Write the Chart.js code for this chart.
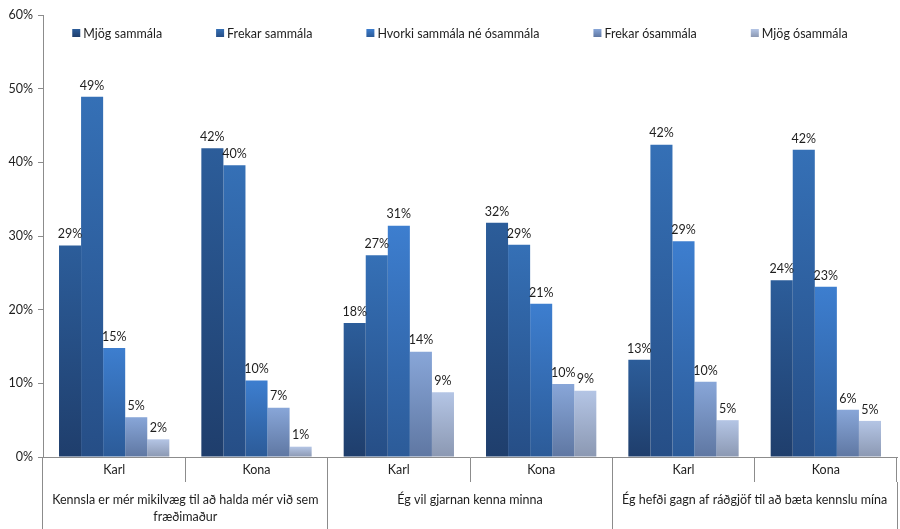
<!DOCTYPE html>
<html>
<head>
<meta charset="utf-8">
<script src="https://cdn.jsdelivr.net/npm/chart.js@4/dist/chart.umd.min.js"></script>
<style>
  html, body { margin: 0; padding: 0; background: #ffffff; }
  #wrap { width: 900px; height: 529px; }
</style>
</head>
<body>
<div id="wrap"><canvas id="chart" width="900" height="529"></canvas></div>
<script>
// Sub-categories (gender) and the three statements they belong to
const categories = ['Karl', 'Kona', 'Karl', 'Kona', 'Karl', 'Kona'];
const statements = [
  ['Kennsla er mér mikilvæg til að halda mér við sem', 'fræðimaður'],
  'Ég vil gjarnan kenna minna',
  'Ég hefði gagn af ráðgjöf til að bæta kennslu mína'
];
const seriesNames = ['Mjög sammála', 'Frekar sammála', 'Hvorki sammála né ósammála', 'Frekar ósammála', 'Mjög ósammála'];

// Share of answers (%) per sub-category
const mjogSammala     = [28.7, 41.9, 18.2, 31.8, 13.2, 24.0];
const frekarSammala   = [48.9, 39.6, 27.4, 28.8, 42.4, 41.7];
const hvorki          = [14.8, 10.4, 31.4, 20.8, 29.3, 23.1];
const frekarOsammala  = [5.4, 6.7, 14.3, 9.9, 10.2, 6.4];
const mjogOsammala    = [2.4, 1.4, 8.8, 9.0, 5.0, 4.9];

const yTicks = [0, 10, 20, 30, 40, 50, 60];

// Gradient colours per series: [top, bottom]
const palette = [
  ['#2c5d9a', '#1f3e6c'],
  ['#3570b6', '#264e86'],
  ['#3d7ecf', '#2c5b98'],
  ['#88a6d8', '#5f77a2'],
  ['#b4c5e5', '#8b98b2']
];

const FONT = 'Lato, "Open Sans", sans-serif';
const TEXT = '#1e1e1e';
const AXIS = '#8c8c8c';

function barFill(pair) {
  return function (ctx) {
    const chart = ctx.chart;
    if (!chart.chartArea || ctx.type !== 'data') return pair[1];
    const y = chart.scales.y;
    const yTop = y.getPixelForValue(ctx.raw);
    const yBase = y.getPixelForValue(0);
    if (!isFinite(yTop) || yTop === yBase) return pair[0];
    const g = chart.ctx.createLinearGradient(0, yTop, 0, yBase);
    g.addColorStop(0, pair[0]);
    g.addColorStop(1, pair[1]);
    return g;
  };
}

const seriesValues = [mjogSammala, frekarSammala, hvorki, frekarOsammala, mjogOsammala];

const datasets = seriesNames.map((name, i) => ({
  label: name,
  data: seriesValues[i],
  backgroundColor: barFill(palette[i]),
  borderWidth: 0,
  barPercentage: 1,
  categoryPercentage: 0.775
}));

// Percent labels above every bar
const valueLabels = {
  id: 'valueLabels',
  afterDatasetsDraw(chart) {
    const ctx = chart.ctx;
    ctx.save();
    ctx.font = '12.5px ' + FONT;
    ctx.fillStyle = TEXT;
    ctx.textAlign = 'center';
    ctx.textBaseline = 'bottom';
    chart.data.datasets.forEach((ds, di) => {
      const meta = chart.getDatasetMeta(di);
      meta.data.forEach((bar, idx) => {
        ctx.fillText(Math.round(ds.data[idx]) + '%', bar.x, bar.y - 5);
      });
    });
    ctx.restore();
  }
};

// Single-row legend laid over the top of the plot area
const topLegend = {
  id: 'topLegend',
  afterDraw(chart) {
    const ctx = chart.ctx;
    const area = chart.chartArea;
    const box = 8, gapText = 3, gapItem = 54;
    ctx.save();
    ctx.font = '12.5px ' + FONT;
    const widths = chart.data.datasets.map(ds => box + gapText + ctx.measureText(ds.label).width);
    const total = widths.reduce((a, b) => a + b, 0) + gapItem * (widths.length - 1);
    let x = (area.left + area.right) / 2 - 10 - total / 2;
    const yc = area.top + 18;
    chart.data.datasets.forEach((ds, i) => {
      const g = ctx.createLinearGradient(0, yc - box / 2, 0, yc + box / 2);
      g.addColorStop(0, palette[i][0]);
      g.addColorStop(1, palette[i][1]);
      ctx.fillStyle = g;
      ctx.fillRect(x, yc - box / 2, box, box);
      ctx.fillStyle = TEXT;
      ctx.textAlign = 'left';
      ctx.textBaseline = 'middle';
      ctx.fillText(ds.label, x + box + gapText, yc + 0.5);
      x += widths[i] + gapItem;
    });
    ctx.restore();
  }
};

new Chart(document.getElementById('chart'), {
  type: 'bar',
  data: { labels: categories, datasets },
  options: {
    responsive: false,
    animation: false,
    layout: { padding: { top: 15, right: 3, bottom: 0, left: 0 } },
    plugins: {
      legend: { display: false },
      tooltip: { enabled: false }
    },
    scales: {
      y: {
        min: 0,
        max: 60,
        afterBuildTicks(scale) { scale.ticks = yTicks.map(v => ({ value: v })); },
        afterFit(scale) { scale.width = 43; },
        ticks: {
          callback: v => v + '%',
          color: TEXT,
          font: { family: FONT, size: 12.5 },
          padding: 5
        },
        grid: { drawOnChartArea: false, color: AXIS, tickLength: 5 },
        border: { color: AXIS }
      },
      x: {
        weight: 1,
        offset: true,
        afterFit(scale) { scale.height = 25; },
        ticks: {
          color: TEXT,
          font: { family: FONT, size: 12.5, lineHeight: '15px' },
          padding: -19.5,
          maxRotation: 0,
          autoSkip: false
        },
        grid: { offset: true, drawOnChartArea: false, color: AXIS, tickLength: 25 },
        border: { color: AXIS }
      },
      x2: {
        type: 'category',
        position: 'bottom',
        weight: 2,
        labels: statements,
        offset: true,
        afterFit(scale) { scale.height = 47; },
        ticks: {
          color: TEXT,
          font: { family: FONT, size: 12.5, lineHeight: '17px' },
          padding: -37.5,
          maxRotation: 0,
          autoSkip: false
        },
        grid: { offset: true, drawOnChartArea: false, color: AXIS, tickLength: 47 },
        border: { display: false }
      }
    }
  },
  plugins: [valueLabels, topLegend]
});
</script>
</body>
</html>
